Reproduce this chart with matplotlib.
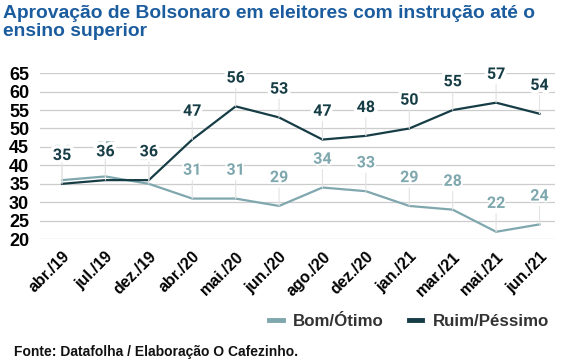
import matplotlib
matplotlib.use("Agg")
import matplotlib.pyplot as plt
import matplotlib.patheffects as pe

meses = ["abr./19", "jul./19", "dez./19", "abr./20", "mai./20", "jun./20",
         "ago./20", "dez./20", "jan./21", "mar./21", "mai./21", "jun./21"]
bom_otimo = [36, 37, 35, 31, 31, 29, 34, 33, 29, 28, 22, 24]
ruim_pessimo = [35, 36, 36, 47, 56, 53, 47, 48, 50, 55, 57, 54]

CLARO, ESCURO, AZUL_TIT = "#7fa7ae", "#163d45", "#1b5c9e"

plt.rcParams.update({"font.family": ["Liberation Sans", "DejaVu Sans"]})
fig = plt.figure(figsize=(5.76, 3.64), dpi=100)
ax = fig.add_axes([0.07, 0.343, 0.893, 0.456])

x = list(range(len(meses)))
ax.plot(x, bom_otimo, color=CLARO, lw=1.6, label="Bom/Ótimo", zorder=3)
ax.plot(x, ruim_pessimo, color=ESCURO, lw=1.6, label="Ruim/Péssimo", zorder=3)

for serie, cor, halo in ((bom_otimo, CLARO, 2.5), (ruim_pessimo, ESCURO, 5)):
    for i, v in zip(x, serie):
        ax.annotate(str(v), xy=(i, v), xytext=(0, 15), textcoords="offset points",
                    ha="center", va="bottom", color=cor, fontsize=11.5,
                    fontfamily="Roboto", fontweight="bold",
                    path_effects=[pe.withStroke(linewidth=halo, foreground="white")],
                    arrowprops=dict(arrowstyle="-", color="#e2e2e2", lw=0.8,
                                    shrinkA=0, shrinkB=0), zorder=4)

ax.set_ylim(20, 65)
ax.set_yticks(range(20, 66, 5))
ax.set_xlim(-0.5, 11.35)
ax.set_xticks(x)
ax.set_xticklabels(meses, rotation=45, ha="right", va="top",
                   rotation_mode="anchor", fontweight="bold", fontsize=11.5)
ax.tick_params(axis="y", length=0, labelsize=13, pad=8)
ax.tick_params(axis="x", length=0, pad=7)
for t in ax.get_yticklabels():
    t.set_fontweight("bold")
ax.grid(axis="y", color="#cccccc", lw=0.9, zorder=0)
for s in ax.spines.values():
    s.set_visible(False)

fig.text(0.005, 0.985, "Aprovação de Bolsonaro em eleitores com instrução até o\nensino superior",
         ha="left", va="top", color=AZUL_TIT, fontsize=13.9, fontweight="bold",
         linespacing=1.05)

leg = fig.legend(loc="center", bbox_to_anchor=(0.71, 0.118), ncol=2, frameon=False,
                 handlelength=0.8, handletextpad=0.6, columnspacing=1.5,
                 prop={"weight": "bold", "size": 12.2})
for linha in leg.get_lines():
    linha.set_linewidth(3.5)
for t in leg.get_texts():
    t.set_color("#333333")

fig.text(0.024, 0.033, "Fonte: Datafolha / Elaboração O Cafezinho.", ha="left", va="center",
         fontsize=10, fontweight="bold", color="#111111")

fig.savefig("out.png", dpi=100, facecolor="white")
